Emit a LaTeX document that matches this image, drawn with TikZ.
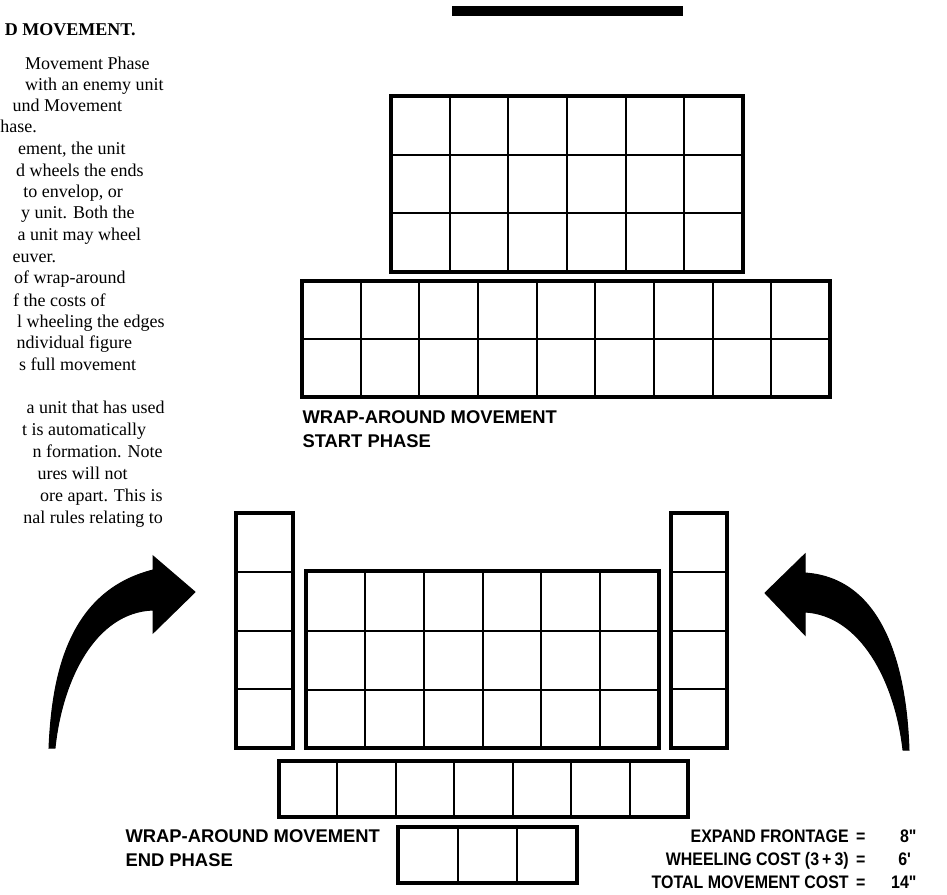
\documentclass[tikz,border=0pt]{standalone}
\usepackage{fontspec}
\setmainfont{Liberation Serif}
\setsansfont{Liberation Sans}
\newfontfamily\narrowsans[FakeStretch=0.88]{Liberation Sans}

\tikzset{every picture/.style={line width=0.75pt}}
\tikzset{
frame line/.style={line width=2.4pt},
cell line/.style={line width=1.5pt},
body text/.style={anchor=base east,inner sep=0pt,font=\fontsize{13.5}{16}\selectfont},
caption text/.style={anchor=base west,inner sep=0pt,font=\sffamily\bfseries\fontsize{13.8}{16}\selectfont},
cost text/.style={anchor=base east,inner sep=0pt,font=\narrowsans\bfseries\fontsize{13.6}{15}\selectfont}}

\begin{document}
\begin{tikzpicture}[x=0.75pt,y=0.75pt,yscale=-1,xscale=1]
\useasboundingbox (0,0) rectangle (947,894);

%Shape: Rectangle [id:bar]
\fill (452,6) rectangle (683,16);

%Shape: Grid [id:top block]
\draw  [cell line] (449.67,96) -- (449.67,272)(508.33,96) -- (508.33,272)(567,96) -- (567,272)(625.67,96) -- (625.67,272)(684.33,96) -- (684.33,272) ;
\draw  [cell line] (391,154.67) -- (743,154.67)(391,213.33) -- (743,213.33) ;
\draw  [frame line] (391,96) -- (743,96) -- (743,272) -- (391,272) -- cycle ;

%Shape: Grid [id:start front]
\draw  [cell line] (360.67,281) -- (360.67,397)(419.33,281) -- (419.33,397)(478,281) -- (478,397)(536.67,281) -- (536.67,397)(595.33,281) -- (595.33,397)(654,281) -- (654,397)(712.67,281) -- (712.67,397)(771.33,281) -- (771.33,397) ;
\draw  [cell line] (302,339) -- (830,339) ;
\draw  [frame line] (302,281) -- (830,281) -- (830,397) -- (302,397) -- cycle ;

%Shape: Grid [id:left wing]
\draw  [cell line] (236,571.75) -- (293,571.75)(236,630.5) -- (293,630.5)(236,689.25) -- (293,689.25) ;
\draw  [frame line] (236,513) -- (293,513) -- (293,748) -- (236,748) -- cycle ;

%Shape: Grid [id:right wing]
\draw  [cell line] (671,571.75) -- (727,571.75)(671,630.5) -- (727,630.5)(671,689.25) -- (727,689.25) ;
\draw  [frame line] (671,513) -- (727,513) -- (727,748) -- (671,748) -- cycle ;

%Shape: Grid [id:end block]
\draw  [cell line] (364.83,571) -- (364.83,748)(423.67,571) -- (423.67,748)(482.5,571) -- (482.5,748)(541.33,571) -- (541.33,748)(600.17,571) -- (600.17,748) ;
\draw  [cell line] (306,631) -- (659,631)(306,690) -- (659,690) ;
\draw  [frame line] (306,571) -- (659,571) -- (659,748) -- (306,748) -- cycle ;

%Shape: Grid [id:end front]
\draw  [cell line] (337.43,761) -- (337.43,817)(395.86,761) -- (395.86,817)(454.29,761) -- (454.29,817)(512.71,761) -- (512.71,817)(571.14,761) -- (571.14,817)(629.57,761) -- (629.57,817) ;
\draw  [frame line] (279,761) -- (688,761) -- (688,817) -- (279,817) -- cycle ;

%Shape: Grid [id:end rear]
\draw  [cell line] (457.5,827) -- (457.5,883)(517,827) -- (517,883) ;
\draw  [frame line] (398,827) -- (577,827) -- (577,883) -- (398,883) -- cycle ;

%Curve Arrow [id:left swing]
\draw  [fill=black] (49,748) .. controls (52,680) and (66,592) .. (153,570) -- (153,556) -- (195,592) -- (153,633) -- (153,610) .. controls (95,612) and (62,680) .. (55,748) -- cycle ;
%Curve Arrow [id:right swing]
\draw  [fill=black] (909,750) .. controls (906,660) and (880,578) .. (805,573) -- (805,554) -- (765,593) -- (805,635) -- (805,612) .. controls (860,615) and (895,680) .. (903,750) -- cycle ;

% Text Node
\draw (136,35) node [body text] (hdr) {\bfseries D MOVEMENT.};
% Text Node
\draw (150,69.3) node [body text] (ln1) {Movement Phase};
\draw (164,90) node [body text] (ln2) {with an enemy unit};
\draw (122.7,111.7) node [body text] (ln3) {und Movement};
\draw (37.3,132.7) node [body text] (ln4) {hase.};
\draw (126,154) node [body text] (ln5) {ement, the unit};
\draw (144,176) node [body text] (ln6) {d wheels the ends};
\draw (123.3,197) node [body text] (ln7) {to envelop, or};
\draw (135,218.3) node [body text] (ln8) {y unit. Both the};
\draw (141.7,240.7) node [body text] (ln9) {a unit may wheel};
\draw (56.7,262.7) node [body text] (ln10) {euver.};
\draw (126,283.3) node [body text] (ln11) {of wrap-around};
\draw (106,306) node [body text] (ln12) {f the costs of};
\draw (165,327.7) node [body text] (ln13) {l wheeling the edges};
\draw (132.7,348.3) node [body text] (ln14) {ndividual figure};
\draw (136.7,370.7) node [body text] (ln15) {s full movement};
\draw (165,413.3) node [body text] (ln16) {a unit that has used};
\draw (146.7,435) node [body text] (ln17) {t is automatically};
\draw (163,457) node [body text] (ln18) {n formation. Note};
\draw (128,479) node [body text] (ln19) {ures will not};
\draw (163,501) node [body text] (ln20) {ore apart. This is};
\draw (163.3,523) node [body text] (ln21) {nal rules relating to};

% Text Node
\draw (302,423) node [caption text] (startcap) {WRAP-AROUND MOVEMENT};
\draw (302,447) node [caption text] (startsub) {START PHASE};
% Text Node
\draw (125,842) node [caption text] (endcap) {WRAP-AROUND MOVEMENT};
\draw (125,866) node [caption text] (endsub) {END PHASE};

% Text Node
\draw (866,842) node [cost text] (expand) {EXPAND FRONTAGE \,=};
\draw (918,842) node [cost text] (expandval) {8\textquotedbl};
\draw (866,865) node [cost text] (wheel) {WHEELING COST (3\,+\,3) \,=};
\draw (912,865) node [cost text] (wheelval) {6\textquotesingle};
\draw (866,888) node [cost text] (total) {TOTAL MOVEMENT COST \,=};
\draw (918,888) node [cost text] (totalval) {14\textquotedbl};

\end{tikzpicture}
\end{document}
